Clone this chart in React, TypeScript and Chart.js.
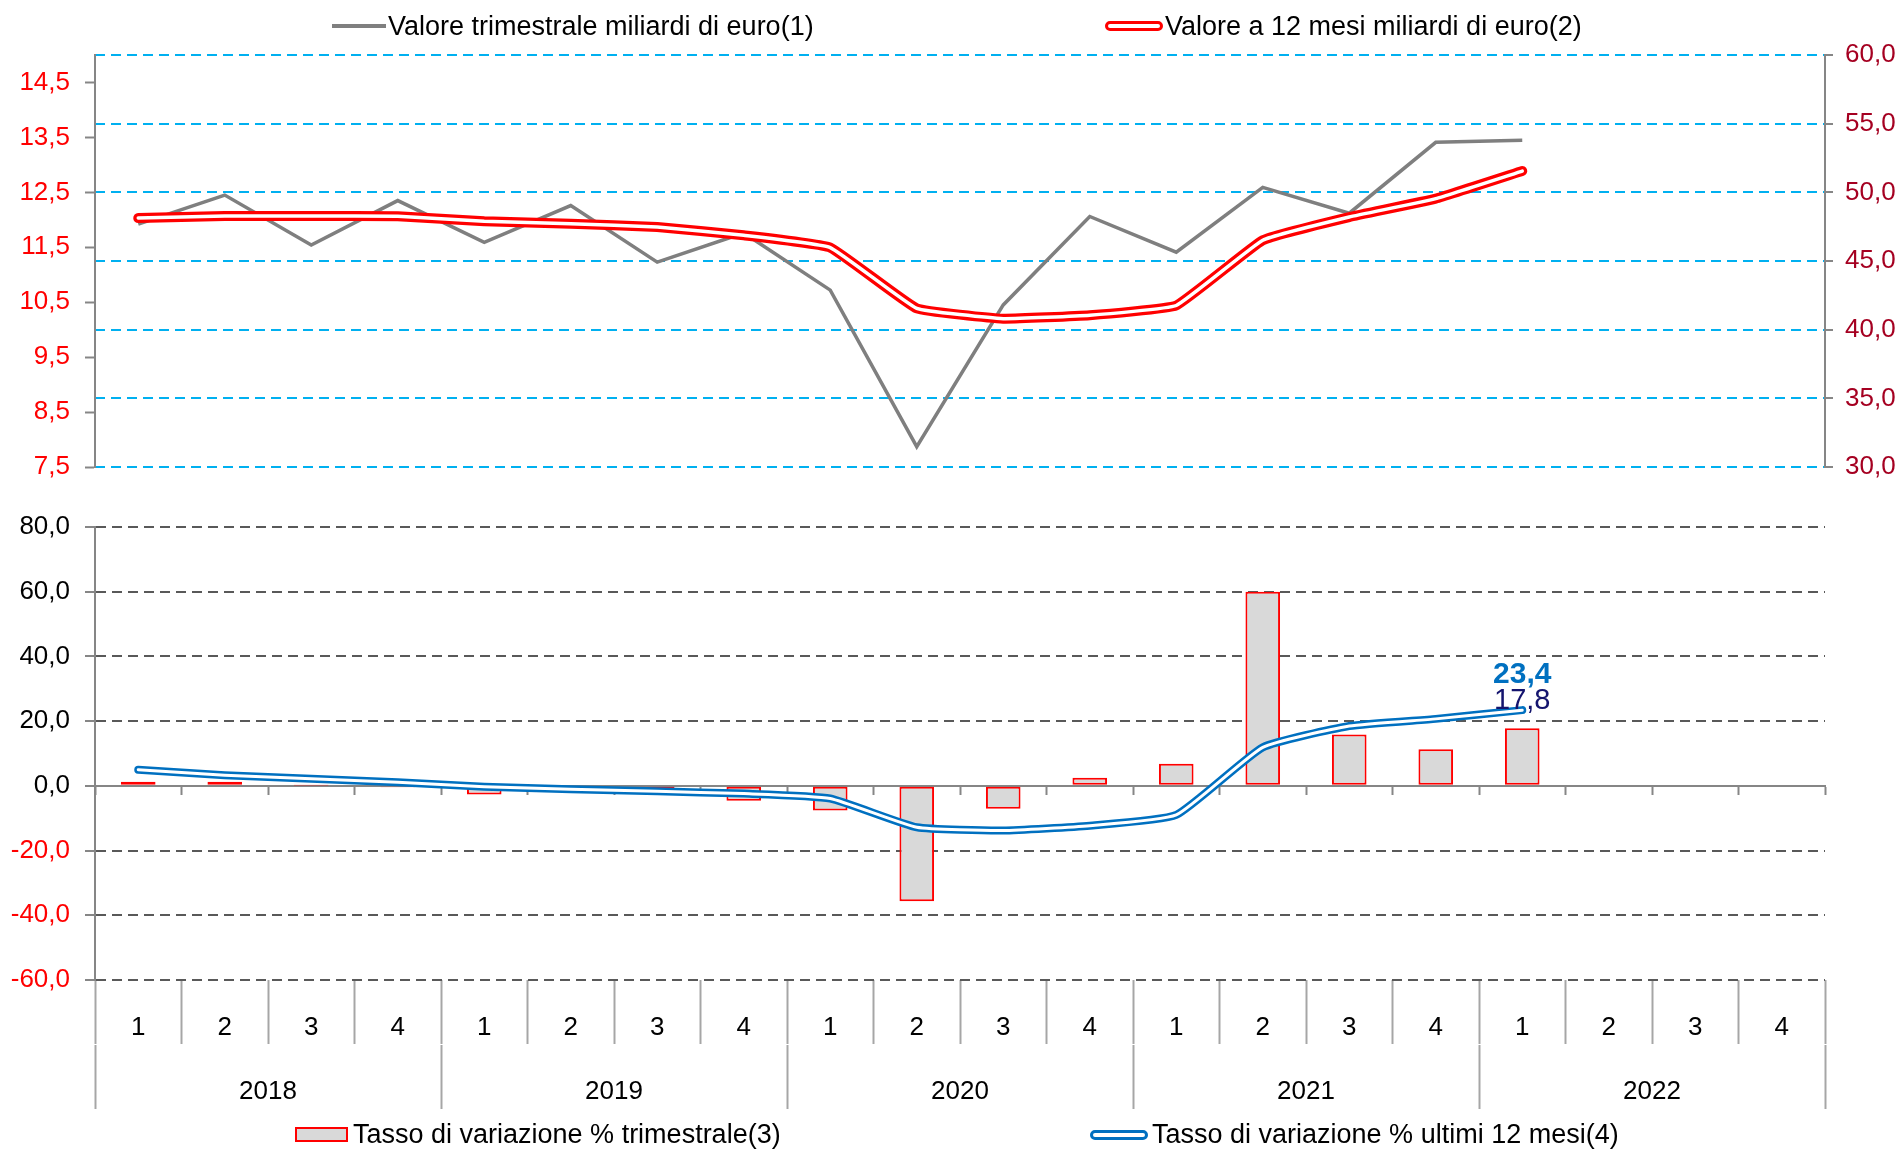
import React, { useEffect, useRef } from 'react';
import { Chart, registerables } from 'chart.js';

Chart.register(...registerables);

// ---- Data ----
const quarterLabels = ['1', '2', '3', '4', '1', '2', '3', '4', '1', '2', '3', '4', '1', '2', '3', '4', '1', '2', '3', '4'];
const yearLabels = ['2018', '2019', '2020', '2021', '2022'];

// Valore trimestrale miliardi di euro (left axis, top panel)
const valoreTrimestrale = [11.92, 12.45, 11.54, 12.35, 11.59, 12.26, 11.23, 11.76, 10.72, 7.87, 10.45, 12.06, 11.41, 12.59, 12.12, 13.41, 13.45, null, null, null];
// Valore a 12 mesi miliardi di euro (right axis, top panel)
const valore12Mesi = [48.13, 48.28, 48.28, 48.25, 47.9, 47.72, 47.48, 46.87, 45.98, 41.55, 40.8, 41.05, 41.76, 46.51, 48.2, 49.54, 51.55, null, null, null];
// Tasso di variazione % trimestrale (bars, bottom panel)
const tassoTrimestrale = [1.3, 1.3, 0.1, -0.4, -2.7, -1.3, -2.4, -4.6, -7.6, -35.7, -7.1, 2.5, 6.8, 60.0, 15.9, 11.3, 17.8, null, null, null];
// Tasso di variazione % ultimi 12 mesi (line, bottom panel)
const tassoUltimi12 = [5.0, 3.3, 2.2, 1.1, -0.3, -1.05, -1.7, -2.4, -3.9, -12.8, -13.8, -12.3, -9.0, 11.9, 18.5, 20.7, 23.4, null, null, null];

const leftTopTicks = [7.5, 8.5, 9.5, 10.5, 11.5, 12.5, 13.5, 14.5];

const legendTop1 = 'Valore trimestrale miliardi di euro(1)';
const legendTop2 = 'Valore a 12 mesi miliardi di euro(2)';
const legendBot1 = 'Tasso di variazione % trimestrale(3)';
const legendBot2 = 'Tasso di variazione % ultimi 12 mesi(4)';

const FONT = "'Liberation Sans', Arial, Helvetica, sans-serif";
const fmt = (v: number) => v.toFixed(1).replace('.', ',');
const AXIS_GRAY = '#868686';
const SEP_GRAY = '#A6A6A6';

function lastIndex(arr: (number | null)[]) {
  for (let i = arr.length - 1; i >= 0; i--) if (arr[i] !== null) return i;
  return -1;
}

const valueLabelPlugin = {
  id: 'valueLabels',
  afterDatasetsDraw(chart: any) {
    const ctx = chart.ctx;
    const xs = chart.scales.x;
    const ys = chart.scales.y;
    ctx.save();
    ctx.textAlign = 'center';
    ctx.textBaseline = 'middle';
    const li = lastIndex(tassoUltimi12);
    if (li >= 0) {
      const v = tassoUltimi12[li] as number;
      ctx.font = `bold 30px ${FONT}`;
      ctx.fillStyle = '#0070C0';
      ctx.fillText(fmt(v), xs.getPixelForValue(li), ys.getPixelForValue(v) - 35);
    }
    const bi = lastIndex(tassoTrimestrale);
    if (bi >= 0) {
      const v = tassoTrimestrale[bi] as number;
      ctx.font = `29px ${FONT}`;
      ctx.fillStyle = '#14146E';
      ctx.fillText(fmt(v), xs.getPixelForValue(bi), ys.getPixelForValue(v) - 27);
    }
    ctx.restore();
  },
};

export default function App() {
  const topRef = useRef<HTMLCanvasElement>(null);
  const botRef = useRef<HTMLCanvasElement>(null);

  useEffect(() => {
    Chart.defaults.font.family = FONT;
    Chart.defaults.font.size = 26;
    Chart.defaults.color = '#000';

    const tickFont = { family: FONT, size: 26 };

    const top = new Chart(topRef.current as HTMLCanvasElement, {
      type: 'line',
      data: {
        labels: quarterLabels,
        datasets: [
          {
            label: legendTop2 + ' inner',
            data: valore12Mesi,
            yAxisID: 'yR',
            borderColor: '#FFFFFF',
            borderWidth: 3.5,
            pointRadius: 0,
            tension: 0.1,
            borderCapStyle: 'round',
            borderJoinStyle: 'round',
            order: 0,
          },
          {
            label: legendTop2,
            data: valore12Mesi,
            yAxisID: 'yR',
            borderColor: '#FF0000',
            borderWidth: 10,
            pointRadius: 0,
            tension: 0.1,
            borderCapStyle: 'round',
            borderJoinStyle: 'round',
            order: 1,
          },
          {
            label: legendTop1,
            data: valoreTrimestrale,
            yAxisID: 'yL',
            borderColor: '#7F7F7F',
            borderWidth: 3.5,
            pointRadius: 0,
            tension: 0,
            order: 2,
          },
        ],
      } as any,
      options: {
        responsive: false,
        animation: false,
        devicePixelRatio: 1,
        layout: { padding: { top: 55, bottom: 33, left: 0, right: 0 } },
        plugins: { legend: { display: false }, tooltip: { enabled: false } },
        scales: {
          x: { type: 'category', display: false, offset: true },
          yL: {
            position: 'left',
            min: 7.5,
            max: 15,
            afterBuildTicks: (s: any) => {
              s.ticks = leftTopTicks.map((v) => ({ value: v }));
            },
            afterFit: (s: any) => {
              s.width = 95;
            },
            ticks: { color: '#FF0000', font: tickFont, padding: 15, callback: (v: any) => fmt(Number(v)) },
            grid: { drawOnChartArea: false, drawTicks: true, tickLength: 10, tickColor: AXIS_GRAY, tickWidth: 2 },
            border: { display: true, color: AXIS_GRAY, width: 2 },
          },
          yR: {
            position: 'right',
            min: 30,
            max: 60,
            afterFit: (s: any) => {
              s.width = 78;
            },
            ticks: { stepSize: 5, color: '#A50021', font: tickFont, padding: 12, callback: (v: any) => fmt(Number(v)) },
            grid: { drawOnChartArea: true, color: '#00B0F0', lineWidth: 2, drawTicks: true, tickLength: 8, tickColor: AXIS_GRAY, tickWidth: 2 },
            border: { display: true, color: AXIS_GRAY, width: 2, dash: [10, 6] },
          },
        },
      } as any,
    });

    const bot = new Chart(botRef.current as HTMLCanvasElement, {
      type: 'bar',
      data: {
        labels: quarterLabels,
        datasets: [
          {
            type: 'line',
            label: legendBot2 + ' inner',
            data: tassoUltimi12,
            borderColor: '#FFFFFF',
            borderWidth: 3,
            pointRadius: 0,
            tension: 0.15,
            borderCapStyle: 'round',
            borderJoinStyle: 'round',
            order: 0,
          },
          {
            type: 'line',
            label: legendBot2,
            data: tassoUltimi12,
            borderColor: '#0070C0',
            borderWidth: 8,
            pointRadius: 0,
            tension: 0.15,
            borderCapStyle: 'round',
            borderJoinStyle: 'round',
            order: 1,
          },
          {
            type: 'bar',
            label: legendBot1,
            data: tassoTrimestrale,
            backgroundColor: '#D9D9D9',
            borderColor: '#FF0000',
            borderWidth: 2,
            borderSkipped: false,
            barPercentage: 0.4,
            categoryPercentage: 1,
            order: 2,
          },
        ],
      } as any,
      options: {
        responsive: false,
        animation: false,
        devicePixelRatio: 1,
        layout: { padding: { top: 37, bottom: 40, left: 0, right: 78 } },
        plugins: { legend: { display: false }, tooltip: { enabled: false } },
        scales: {
          x: {
            type: 'category',
            position: 'bottom',
            offset: true,
            afterFit: (s: any) => {
              s.height = 65;
            },
            ticks: { autoSkip: false, maxRotation: 0, font: tickFont, color: '#000', padding: -31.6 },
            grid: { offset: true, drawOnChartArea: false, drawTicks: true, tickLength: 64, tickColor: SEP_GRAY, tickWidth: 2 },
            border: { display: false },
          },
          year: {
            type: 'category',
            position: 'bottom',
            labels: yearLabels,
            offset: true,
            afterFit: (s: any) => {
              s.height = 64;
            },
            ticks: { autoSkip: false, maxRotation: 0, font: tickFont, color: '#000', padding: -32.6 },
            grid: { offset: true, drawOnChartArea: false, drawTicks: true, tickLength: 64, tickColor: SEP_GRAY, tickWidth: 2 },
            border: { display: false },
          },
          x0: {
            type: 'category',
            axis: 'x',
            position: { y: 0 },
            offset: true,
            ticks: { display: false },
            grid: { offset: true, drawOnChartArea: false, drawTicks: true, tickLength: 8, tickColor: AXIS_GRAY, tickWidth: 2 },
            border: { display: true, color: AXIS_GRAY, width: 2 },
          },
          y: {
            position: 'left',
            min: -60,
            max: 80,
            afterFit: (s: any) => {
              s.width = 95;
            },
            ticks: {
              stepSize: 20,
              font: tickFont,
              padding: 15,
              color: (c: any) => (c.tick && c.tick.value < 0 ? '#FF0000' : '#000000'),
              callback: (v: any) => fmt(Number(v)),
            },
            grid: { drawOnChartArea: true, color: '#595959', lineWidth: 2, drawTicks: true, tickLength: 10, tickColor: AXIS_GRAY, tickWidth: 2 },
            border: { display: true, color: AXIS_GRAY, width: 2, dash: [10, 6] },
          },
        },
      } as any,
      plugins: [valueLabelPlugin],
    });

    return () => {
      top.destroy();
      bot.destroy();
    };
  }, []);

  const textStyle: React.CSSProperties = {
    position: 'absolute',
    fontFamily: FONT,
    fontSize: 27,
    lineHeight: '30px',
    color: '#000',
    whiteSpace: 'nowrap',
  };

  return (
    <div style={{ position: 'fixed', left: 0, top: 0, width: 1903, height: 1149, background: '#fff', overflow: 'hidden' }}>
      <canvas ref={topRef} width={1903} height={500} style={{ position: 'absolute', left: 0, top: 0, width: 1903, height: 500 }} />
      <canvas ref={botRef} width={1903} height={659} style={{ position: 'absolute', left: 0, top: 490, width: 1903, height: 659 }} />

      {/* Top legend */}
      <div style={{ position: 'absolute', left: 332, top: 24, width: 54, height: 3.5, background: '#7F7F7F' }} />
      <div style={{ ...textStyle, left: 388, top: 11 }}>{legendTop1}</div>
      <div style={{ position: 'absolute', left: 1105, top: 21, width: 58, height: 10, boxSizing: 'border-box', border: '3px solid #FF0000', borderRadius: 5, background: '#fff' }} />
      <div style={{ ...textStyle, left: 1165, top: 11 }}>{legendTop2}</div>

      {/* Bottom legend */}
      <div style={{ position: 'absolute', left: 295, top: 1127, width: 53, height: 15, boxSizing: 'border-box', border: '2px solid #FF0000', background: '#D9D9D9' }} />
      <div style={{ ...textStyle, left: 353, top: 1119 }}>{legendBot1}</div>
      <div style={{ position: 'absolute', left: 1090, top: 1130, width: 58, height: 10, boxSizing: 'border-box', border: '3px solid #0070C0', borderRadius: 5, background: '#fff' }} />
      <div style={{ ...textStyle, left: 1152, top: 1119 }}>{legendBot2}</div>
    </div>
  );
}
